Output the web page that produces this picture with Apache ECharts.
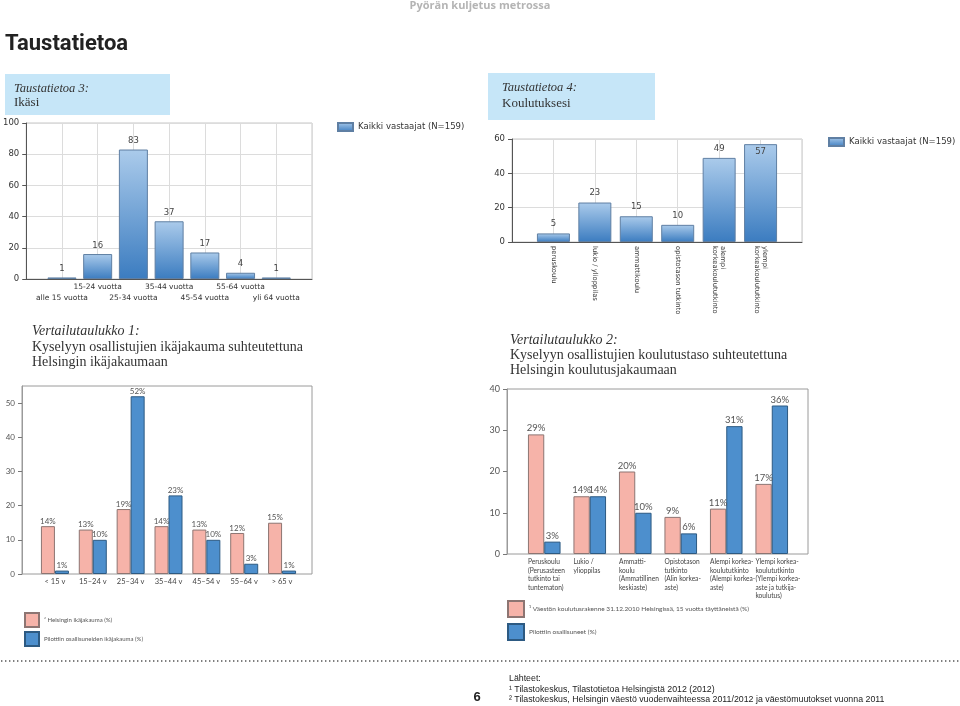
<!DOCTYPE html>
<html><head><meta charset="utf-8">
<script src="https://cdn.jsdelivr.net/npm/echarts@6/dist/echarts.min.js"></script>
<style>html,body{margin:0;padding:0;background:#fff}#c{width:960px;height:706px}</style>
</head><body><div id="c"></div>
<script>
// ---- data ----
const ageCats = ['alle 15 vuotta','15-24 vuotta','25-34 vuotta','35-44 vuotta','45-54 vuotta','55-64 vuotta','yli 64 vuotta'];
const ageCounts = [1,16,83,37,17,4,1];
const eduCats = ['peruskoulu','lukio / ylioppilas','ammattikoulu','opistotason tutkinto','alempi\nkorkeakoulututkinto','ylempi\nkorkeakoulututkinto'];
const eduCounts = [5,23,15,10,49,57];
const allName = 'Kaikki vastaajat (N=159)';

const ageGroups = ['< 15 v','15–24 v','25–34 v','35–44 v','45–54 v','55–64 v','> 65 v'];
const helAge = [14,13,19,14,13,12,15];
const pilotAge = [1,10,52,23,10,3,1];
const ageTicks = [0,10,20,30,40,50];
const helAgeName = '² Helsingin ikäjakauma (%)';
const pilotAgeName = 'Pilottiin osallisuneiden ikäjakauma (%)';

const eduGroups = ['Peruskoulu\n(Perusasteen\ntutkinto tai\ntuntematon)','Lukio /\nylioppilas','Ammatti-\nkoulu\n(Ammatillinen\nkeskiaste)','Opistotason\ntutkinto\n(Alin korkea-\naste)','Alempi korkea-\nkoulututkinto\n(Alempi korkea-\naste)','Ylempi korkea-\nkoulututkinto\n(Ylempi korkea-\naste ja tutkija-\nkoulutus)'];
const helEdu = [29,14,20,9,11,17];
const pilotEdu = [3,14,10,5,31,36];
const helEduLabels = ['29%','14%','20%','9%','11%','17%'];
const pilotEduLabels = ['3%','14%','10%','6%','31%','36%'];
const helEduName = '¹ Väestön koulutusrakenne 31.12.2010 Helsingissä, 15 vuotta täyttäneistä (%)';
const pilotEduName = 'Pilottiin osallisuneet (%)';

// ---- chart ----
const chart = echarts.init(document.getElementById('c'));
const grad = () => new echarts.graphic.LinearGradient(0,0,0,1,[{offset:0,color:'#abcbeb'},{offset:1,color:'#3b7cc0'}]);
const pad = a => ['', ...a, ''];
const padV = a => ['-', ...a, '-'];
const smallFont = 'DejaVu Sans';
const pubFont = 'Lato';
const PINK = '#f6b3a9', PINKB = '#8d7572', BLUE = '#4d8fcd', BLUEB = '#2d5a82';

const option = {
  animation: false,
  backgroundColor: '#fff',
  grid: [
    {left:24, top:123, width:288, height:156, show:true, borderColor:'#c6c6c6', borderWidth:1},
    {left:512, top:139, width:290, height:103, show:true, borderColor:'#c6c6c6', borderWidth:1},
    {left:22, top:386, width:290, height:188, show:true, borderColor:'#9a9a9a', borderWidth:1},
    {left:36, top:386, width:265, height:188},
    {left:507, top:389, width:301, height:165, show:true, borderColor:'#9a9a9a', borderWidth:1},
    {left:521.5, top:389, width:273, height:165},
    {left:505.2, top:389, width:273, height:165}
  ],
  xAxis: [
    {gridIndex:0, type:'category', data:pad(ageCats), boundaryGap:false,
     axisLine:{lineStyle:{color:'#555'}}, axisTick:{show:false},
     axisLabel:{interval:0, margin:2, lineHeight:11.5, fontSize:7.5, color:'#333', fontFamily:smallFont,
       formatter:(v,i)=> (i%2===1 ? '\n'+v : v)},
     splitLine:{show:true, lineStyle:{color:'#dcdcdc'}}},
    {gridIndex:1, type:'category', data:pad(eduCats), boundaryGap:false,
     axisLine:{lineStyle:{color:'#555'}}, axisTick:{show:false},
     axisLabel:{interval:0, rotate:-90, margin:4, fontSize:6.8, lineHeight:8, color:'#333', fontFamily:smallFont},
     splitLine:{show:true, lineStyle:{color:'#dcdcdc'}}},
    {gridIndex:2, type:'value', show:false},
    {gridIndex:3, type:'category', data:ageGroups, axisLine:{show:false}, axisTick:{show:false},
     axisLabel:{interval:0, margin:4, fontSize:7.5, color:'#444', fontFamily:pubFont}},
    {gridIndex:4, type:'value', show:false},
    {gridIndex:5, type:'category', data:eduGroups, axisLine:{show:false}, axisTick:{show:false}, axisLabel:{show:false}},
    {gridIndex:6, type:'category', data:eduGroups, axisLine:{show:false}, axisTick:{show:false},
     axisLabel:{interval:0, margin:4, align:'left', fontSize:6.6, lineHeight:8.4, color:'#444', fontFamily:pubFont}}
  ],
  yAxis: [
    {gridIndex:0, type:'value', min:0, max:100, interval:20,
     axisLine:{show:true, lineStyle:{color:'#555'}}, axisTick:{show:true, length:4, lineStyle:{color:'#555'}},
     axisLabel:{fontSize:8.5, color:'#333', margin:7, fontFamily:smallFont},
     splitLine:{lineStyle:{color:'#dcdcdc'}}},
    {gridIndex:1, type:'value', min:0, max:60, interval:20,
     axisLine:{show:true, lineStyle:{color:'#555'}}, axisTick:{show:true, length:4, lineStyle:{color:'#555'}},
     axisLabel:{fontSize:8.5, color:'#333', margin:7, fontFamily:smallFont},
     splitLine:{lineStyle:{color:'#dcdcdc'}}},
    {gridIndex:2, type:'value', min:0, max:55, interval:10,
     axisLine:{show:true, lineStyle:{color:'#9a9a9a'}},
     axisTick:{show:true, length:4, lineStyle:{color:'#777'}, customValues:ageTicks},
     axisLabel:{fontSize:8, color:'#555', margin:7, fontFamily:pubFont, customValues:ageTicks}, splitLine:{show:false}},
    {gridIndex:3, type:'value', min:0, max:55, show:false},
    {gridIndex:4, type:'value', min:0, max:40, interval:10,
     axisLine:{show:true, lineStyle:{color:'#9a9a9a'}}, axisTick:{show:true, length:4, lineStyle:{color:'#777'}},
     axisLabel:{fontSize:9, color:'#555', margin:7, fontFamily:pubFont}, splitLine:{show:false}},
    {gridIndex:5, type:'value', min:0, max:40, show:false},
    {gridIndex:6, type:'value', min:0, max:40, show:false}
  ],
  legend: [
    {data:[allName], left:337, top:122, padding:0, icon:'rect', itemWidth:15, itemHeight:8, selectedMode:false,
     textStyle:{fontSize:8.5, color:'#333', fontFamily:smallFont}},
    {data:[allName], left:828, top:137, padding:0, icon:'rect', itemWidth:15, itemHeight:8, selectedMode:false,
     textStyle:{fontSize:8.5, color:'#333', fontFamily:smallFont}},
    {data:[helAgeName, pilotAgeName], left:24, top:612, padding:0, orient:'vertical', icon:'rect', itemWidth:14, itemHeight:14, itemGap:3, selectedMode:false,
     textStyle:{fontSize:6, color:'#555', fontFamily:pubFont}},
    {data:[helEduName, pilotEduName], left:507, top:600, padding:0, orient:'vertical', icon:'rect', itemWidth:16, itemHeight:16, itemGap:5, selectedMode:false,
     textStyle:{fontSize:6.5, color:'#555', fontFamily:pubFont}}
  ],
  series: [
    {type:'bar', name:allName, xAxisIndex:0, yAxisIndex:0, data:padV(ageCounts), barWidth:29,
     itemStyle:{color:grad(), borderColor:'#5f7fa3', borderWidth:1},
     label:{show:true, position:'top', distance:4, fontSize:8.5, color:'#444', fontFamily:smallFont}},
    {type:'bar', name:allName, xAxisIndex:1, yAxisIndex:1,
     data:padV(eduCounts.map(v => v > 55 ? {value:v, label:{position:'insideTop', distance:3}} : v)), barWidth:33,
     itemStyle:{color:grad(), borderColor:'#5f7fa3', borderWidth:1},
     label:{show:true, position:'top', distance:5, fontSize:8.5, color:'#444', fontFamily:smallFont}},
    {type:'bar', name:helAgeName, xAxisIndex:3, yAxisIndex:3, data:helAge, barWidth:14, barGap:'0%',
     itemStyle:{color:PINK, borderColor:PINKB, borderWidth:1},
     label:{show:true, position:'top', distance:1, fontSize:8, color:'#555', fontFamily:pubFont, formatter:'{c}%'}},
    {type:'bar', name:pilotAgeName, xAxisIndex:3, yAxisIndex:3, data:pilotAge, barWidth:14, barGap:'0%',
     itemStyle:{color:BLUE, borderColor:BLUEB, borderWidth:1},
     label:{show:true, position:'top', distance:1, fontSize:8, color:'#555', fontFamily:pubFont, formatter:'{c}%'}},
    {type:'bar', name:helEduName, xAxisIndex:5, yAxisIndex:5, data:helEdu, barWidth:16.3, barGap:'0%',
     itemStyle:{color:PINK, borderColor:PINKB, borderWidth:1},
     label:{show:true, position:'top', distance:1, fontSize:9.5, color:'#555', fontFamily:pubFont, formatter:p=>helEduLabels[p.dataIndex]}},
    {type:'bar', name:pilotEduName, xAxisIndex:5, yAxisIndex:5, data:pilotEdu, barWidth:16.3, barGap:'0%',
     itemStyle:{color:BLUE, borderColor:BLUEB, borderWidth:1},
     label:{show:true, position:'top', distance:1, fontSize:9.5, color:'#555', fontFamily:pubFont, formatter:p=>pilotEduLabels[p.dataIndex]}}
  ],
  graphic: [
    {type:'text', x:480, y:6, style:{text:'Pyörän kuljetus metrossa', font:'bold 11px "Open Sans"', fill:'#b4b4b4', textAlign:'center', textVerticalAlign:'middle'}},
    {type:'text', x:5, y:44, style:{text:'Taustatietoa', font:'bold 22px Roboto', fill:'#222', textAlign:'left', textVerticalAlign:'middle'}},
    {type:'rect', shape:{x:5, y:74, width:165, height:41}, style:{fill:'#c6e6f8'}},
    {type:'text', x:14, y:89, style:{text:'Taustatietoa 3:', font:'italic 12.5px "Liberation Serif"', fill:'#333', textVerticalAlign:'middle'}},
    {type:'text', x:14, y:103, style:{text:'Ikäsi', font:'13px "Liberation Serif"', fill:'#333', textVerticalAlign:'middle'}},
    {type:'rect', shape:{x:488, y:73, width:167, height:47}, style:{fill:'#c6e6f8'}},
    {type:'text', x:502, y:88, style:{text:'Taustatietoa 4:', font:'italic 12.5px "Liberation Serif"', fill:'#333', textVerticalAlign:'middle'}},
    {type:'text', x:502, y:104, style:{text:'Koulutuksesi', font:'13px "Liberation Serif"', fill:'#333', textVerticalAlign:'middle'}},
    {type:'text', x:32, y:331, style:{text:'Vertailutaulukko 1:', font:'italic 14px "Liberation Serif"', fill:'#333', textVerticalAlign:'middle'}},
    {type:'text', x:32, y:347, style:{text:'Kyselyyn osallistujien ikäjakauma suhteutettuna', font:'14px "Liberation Serif"', fill:'#333', textVerticalAlign:'middle'}},
    {type:'text', x:32, y:362, style:{text:'Helsingin ikäjakaumaan', font:'14px "Liberation Serif"', fill:'#333', textVerticalAlign:'middle'}},
    {type:'text', x:510, y:340, style:{text:'Vertailutaulukko 2:', font:'italic 14px "Liberation Serif"', fill:'#333', textVerticalAlign:'middle'}},
    {type:'text', x:510, y:355, style:{text:'Kyselyyn osallistujien koulutustaso suhteutettuna', font:'14px "Liberation Serif"', fill:'#333', textVerticalAlign:'middle'}},
    {type:'text', x:510, y:370, style:{text:'Helsingin koulutusjakaumaan', font:'14px "Liberation Serif"', fill:'#333', textVerticalAlign:'middle'}},
    {type:'line', shape:{x1:1, y1:661, x2:960, y2:661}, style:{stroke:'#555', lineWidth:1.6, lineDash:[1.4,2.6]}},
    {type:'text', x:477, y:697, style:{text:'6', font:'bold 13px "Liberation Sans"', fill:'#222', textAlign:'center', textVerticalAlign:'middle'}},
    {type:'text', x:509, y:679, style:{text:'Lähteet:', font:'8.8px "Liberation Sans"', fill:'#222', textVerticalAlign:'middle'}},
    {type:'text', x:509, y:689.5, style:{text:'¹ Tilastokeskus, Tilastotietoa Helsingistä 2012 (2012)', font:'8.8px "Liberation Sans"', fill:'#222', textVerticalAlign:'middle'}},
    {type:'text', x:509, y:700, style:{text:'² Tilastokeskus, Helsingin väestö vuodenvaihteessa 2011/2012 ja väestömuutokset vuonna 2011', font:'8.8px "Liberation Sans"', fill:'#222', textVerticalAlign:'middle'}}
  ]
};
chart.setOption(option);
</script></body></html>
